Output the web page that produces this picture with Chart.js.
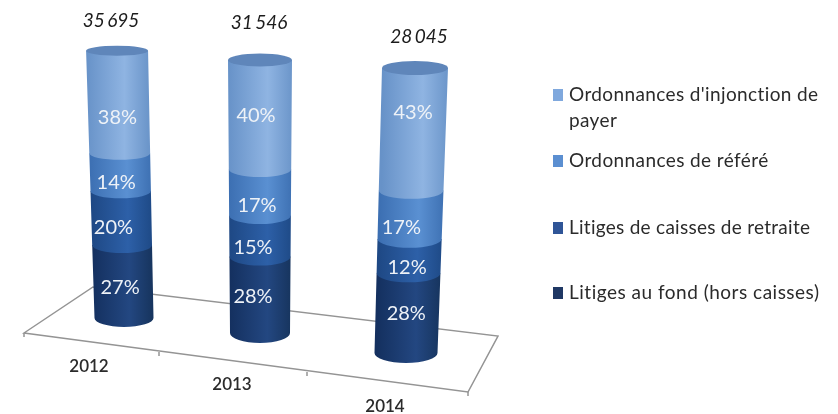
<!DOCTYPE html>
<html>
<head>
<meta charset="utf-8">
<style>
html, body { margin: 0; padding: 0; background: #fff; }
canvas { display: block; filter: blur(0.6px); }
</style>
<script src="https://cdn.jsdelivr.net/npm/chart.js@4/dist/chart.umd.min.js"></script>
</head>
<body>
<canvas id="chart" width="838" height="414"></canvas>
<script>
// Data
const years = ['2012', '2013', '2014'];
const totals = ['35 695', '31 546', '28 045'];
const litigesFond = [27, 28, 28];
const litigesCaisses = [20, 15, 12];
const ordonnancesRefere = [14, 17, 17];
const ordonnancesInjonction = [38, 40, 43];

const legendLines = [
    ["Ordonnances d'injonction de", 'payer'],
    ['Ordonnances de référé'],
    ['Litiges de caisses de retraite'],
    ['Litiges au fond (hors caisses)']
];

// Segment colours, bottom to top: edge, lit part, right edge
const shades = [
    ['#14305f', '#234781', '#17355f'],
    ['#1e4884', '#2d60a8', '#1f4b88'],
    ['#3c6fb2', '#5a90d2', '#3f72b4'],
    ['#6792c8', '#8fb4e2', '#6c96ca']
];
const legendColors = ['#7fa8dd', '#5b8fd1', '#2f5597', '#1f3864'];

// Perspective of the fake 3D view, one entry per year
const floorDrop = [-22, -7, 13];
const stretch = [0.9, 0.91, 0.95];
const leanBase = [7, -1, 1];
const leanTop = [0, -1, 10];
const halfBase = [29.5, 30, 31.5];
const halfTop = [31, 32, 33];
const ryBase = [9, 10, 10];
const ryTop = [5, 6.5, 7];

// Label shift from the middle of a segment [dx, dy], by series then year
const labelShift = [
    [[-3, 6], [-7, 2], [-1, 0]],
    [[-8, 9], [-7, 11], [-2, 11]],
    [[-4, 10], [-3, 13], [-9, 13]],
    [[-1, 16], [-4, 1], [0, -17]]
];

const floorCorners = [[24, 333], [93, 287], [498, 336], [468, 392]];
const floorTicks = [[24, 333], [159, 352], [307, 372], [468, 392]];
const yearPos = [[-28, 27], [-29, 45], [-20, 67]];
const totalPos = [[-6, -19], [-2, -25], [14, -18]];
const legendY = [95, 161, 228, 293];
const legendSpacing = ['0.38px', '0.4px', '0.27px', '0.5px'];

const textColor = '#2b2b2b';

function project(chart, i, x, y) {
    const area = chart.chartArea;
    const f = (area.bottom - y) / (area.bottom - area.top);
    return {
        x: x + leanBase[i] + (leanTop[i] - leanBase[i]) * f,
        y: area.bottom + floorDrop[i] - (area.bottom - y) * stretch[i],
        half: halfBase[i] + (halfTop[i] - halfBase[i]) * f,
        ry: ryBase[i] + (ryTop[i] - ryBase[i]) * f
    };
}

const cylinders = {
    id: 'cylinders',
    beforeDatasetsDraw(chart) {
        const ctx = chart.ctx;
        ctx.save();
        ctx.strokeStyle = '#949494';
        ctx.lineWidth = 1.5;
        ctx.beginPath();
        floorCorners.forEach((p, n) => n ? ctx.lineTo(p[0], p[1]) : ctx.moveTo(p[0], p[1]));
        ctx.closePath();
        ctx.stroke();
        floorTicks.forEach(p => {
            ctx.beginPath();
            ctx.moveTo(p[0], p[1]);
            ctx.lineTo(p[0], p[1] + 4);
            ctx.stroke();
        });
        ctx.restore();
    },
    afterDatasetsDraw(chart) {
        const ctx = chart.ctx;
        const xScale = chart.scales.x;
        ctx.save();
        ctx.textAlign = 'center';
        ctx.textBaseline = 'middle';

        years.forEach((year, i) => {
            let top = null;
            chart.data.datasets.forEach((ds, s) => {
                const bar = chart.getDatasetMeta(s).data[i];
                const lo = project(chart, i, bar.x, bar.base);
                const hi = project(chart, i, bar.x, bar.y);
                const g = ctx.createLinearGradient(hi.x - hi.half, 0, hi.x + hi.half, 0);
                g.addColorStop(0, shades[s][0]);
                g.addColorStop(0.62, shades[s][1]);
                g.addColorStop(1, shades[s][2]);
                ctx.fillStyle = g;
                ctx.beginPath();
                ctx.moveTo(hi.x - hi.half, hi.y);
                ctx.lineTo(hi.x + hi.half, hi.y);
                ctx.lineTo(lo.x + lo.half, lo.y);
                ctx.ellipse(lo.x, lo.y, lo.half, lo.ry, 0, 0, Math.PI);
                ctx.closePath();
                ctx.fill();
                top = hi;
            });

            // lid
            ctx.fillStyle = '#5f86ba';
            ctx.beginPath();
            ctx.ellipse(top.x, top.y, top.half, top.ry, 0, 0, Math.PI * 2);
            ctx.fill();

            // percent labels
            ctx.font = '20px Lato';
            ctx.fillStyle = '#eef2f7';
            chart.data.datasets.forEach((ds, s) => {
                const bar = chart.getDatasetMeta(s).data[i];
                const mid = project(chart, i, bar.x, (bar.y + bar.base) / 2);
                const shift = labelShift[s][i];
                ctx.fillText(ds.data[i] + '%', mid.x + shift[0], mid.y + shift[1]);
            });

            // year under the floor, total over the cylinder
            const px = xScale.getPixelForTick(i);
            ctx.font = '600 17px Lato';
            ctx.fillStyle = textColor;
            ctx.fillText(year, px + yearPos[i][0], chart.chartArea.bottom + yearPos[i][1]);
            ctx.font = 'italic 19px Lato';
            ctx.wordSpacing = '-2px';
            ctx.fillStyle = '#1c1c1c';
            ctx.fillText(totals[i], px + totalPos[i][0], top.y + totalPos[i][1] - top.ry - 6);
            ctx.wordSpacing = '0px';
        });

        // legend
        ctx.textAlign = 'left';
        ctx.font = '19px Lato';
        legendLines.forEach((lines, n) => {
            ctx.fillStyle = legendColors[n];
            ctx.fillRect(553, legendY[n] - 6, 10, 12);
            ctx.fillStyle = textColor;
            ctx.letterSpacing = legendSpacing[n];
            lines.forEach((line, l) => ctx.fillText(line, 569, legendY[n] + l * 26));
        });
        ctx.letterSpacing = '0px';
        ctx.restore();
    }
};

new Chart(document.getElementById('chart').getContext('2d'), {
    type: 'bar',
    data: {
        labels: years,
        datasets: [
            { label: legendLines[3][0], data: litigesFond },
            { label: legendLines[2][0], data: litigesCaisses },
            { label: legendLines[1][0], data: ordonnancesRefere },
            { label: legendLines[0].join(' '), data: ordonnancesInjonction }
        ].map(d => ({ ...d, backgroundColor: 'transparent', barThickness: 60 }))
    },
    options: {
        responsive: false,
        animation: false,
        layout: { padding: { left: 45, right: 361, top: 40, bottom: 74 } },
        plugins: { legend: { display: false }, tooltip: { enabled: false } },
        scales: {
            x: { stacked: true, display: false },
            y: { stacked: true, display: false, min: 0, max: 100 }
        }
    },
    plugins: [cylinders]
});
</script>
</body>
</html>
